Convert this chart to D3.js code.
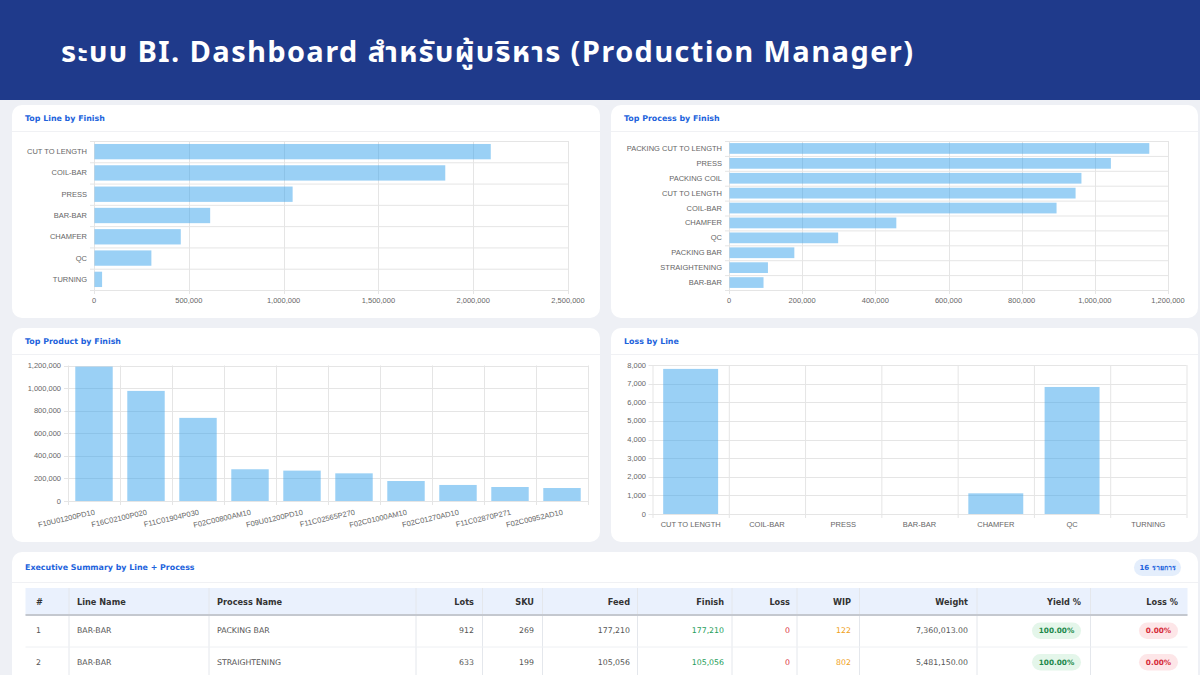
<!DOCTYPE html>
<html>
<head>
<meta charset="utf-8">
<script src="https://cdn.jsdelivr.net/npm/d3@7/dist/d3.min.js"></script>
<style>
  html, body { margin: 0; padding: 0; background: #eef0f5; }
  svg { display: block; }
  .tick-label { font-family: "Liberation Sans", Arial, sans-serif; font-size: 7.5px; fill: #666; }
  .card-title { font-family: "DejaVu Sans", sans-serif; font-weight: bold; font-size: 7.9px; fill: #1d63dc; }
  .tbl { font-family: "DejaVu Sans", sans-serif; font-size: 7.8px; fill: #555; }
  .tbl-h { font-family: "DejaVu Sans", sans-serif; font-size: 8.2px; font-weight: bold; fill: #333; }
</style>
</head>
<body>
<div id="chart"></div>
<script>
// Data
const lineNames = ['CUT TO LENGTH', 'COIL-BAR', 'PRESS', 'BAR-BAR', 'CHAMFER', 'QC', 'TURNING']
const lineFinish = [2090000, 1850000, 1045000, 610000, 455000, 300000, 40000]

const processNames = ['PACKING CUT TO LENGTH', 'PRESS', 'PACKING COIL', 'CUT TO LENGTH', 'COIL-BAR',
  'CHAMFER', 'QC', 'PACKING BAR', 'STRAIGHTENING', 'BAR-BAR']
const processFinish = [1147500, 1042500, 962000, 946000, 894000, 456000, 297000, 177210, 105056, 93000]

const productNames = ['F10U01200PD10', 'F16C02100P020', 'F11C01904P030', 'F02C00800AM10', 'F09U01200PD10',
  'F11C02565P270', 'F02C01000AM10', 'F02C01270AD10', 'F11C02870P271', 'F02C00952AD10']
const productFinish = [1190000, 975000, 736000, 281000, 269000, 245000, 177000, 142000, 124000, 115000]

const lossLines = ['CUT TO LENGTH', 'COIL-BAR', 'PRESS', 'BAR-BAR', 'CHAMFER', 'QC', 'TURNING']
const lossValues = [7790, 0, 0, 0, 1110, 6820, 0]

const tableHeaders = ['#', 'Line Name', 'Process Name', 'Lots', 'SKU', 'Feed', 'Finish', 'Loss', 'WIP', 'Weight', 'Yield %', 'Loss %']
const tableRows = [
  [1, 'BAR-BAR', 'PACKING BAR', 912, 269, 177210, 177210, 0, 122, 7360013, 100, 0],
  [2, 'BAR-BAR', 'STRAIGHTENING', 633, 199, 105056, 105056, 0, 802, 5481150, 100, 0],
]
const recordCount = '16 รายการ'

// Setup
const W = 1200, H = 675
const svg = d3.select('#chart').append('svg').attr('width', W).attr('height', H)
svg.append('rect').attr('width', W).attr('height', H).attr('fill', '#eef0f5')

// header band
svg.append('rect').attr('width', W).attr('height', 100).attr('fill', '#1f3a8b')
svg.append('text')
  .attr('x', 61).attr('y', 62)
  .attr('textLength', 852).attr('lengthAdjust', 'spacing')
  .style('font-family', '"Noto Sans Thai", "Noto Sans", "DejaVu Sans", sans-serif')
  .style('font-weight', 'bold').style('font-size', '29px').attr('fill', '#fff')
  .text('ระบบ BI. Dashboard สำหรับผู้บริหาร (Production Manager)')

const barFill = 'rgba(54,162,235,0.5)'
const gridColor = '#e5e5e5'
const fmt = d3.format(',')

function card(x, y, w, h, title, headerLine) {
  const g = svg.append('g')
  g.append('rect').attr('x', x).attr('y', y).attr('width', w).attr('height', h)
    .attr('rx', 10).attr('fill', '#fff')
  g.append('text').attr('class', 'card-title').attr('x', x + 13).attr('y', y + 15.5).text(title)
  if (headerLine !== false) {
    g.append('line').attr('x1', x).attr('x2', x + w).attr('y1', y + 26.5).attr('y2', y + 26.5)
      .attr('stroke', '#f0f1f4')
  }
  return g
}

// horizontal bar chart
function hBar(g, names, values, xScale, ticks, top, bottom, labelRight) {
  const y = d3.scaleBand().domain(names).range([top, bottom]).padding(0)
  const x0 = xScale.range()[0], x1 = xScale.range()[1]
  // category boundary lines
  const bounds = names.map(n => y(n)).concat([bottom])
  g.selectAll('.hb').data(bounds).join('line')
    .attr('x1', x0 - 4).attr('x2', x1).attr('y1', d => d + 0.5).attr('y2', d => d + 0.5)
    .attr('stroke', gridColor)
  g.selectAll('.vg').data(ticks).join('line')
    .attr('x1', d => Math.round(xScale(d)) + 0.5).attr('x2', d => Math.round(xScale(d)) + 0.5)
    .attr('y1', top).attr('y2', bottom + 4)
    .attr('stroke', gridColor)
  const bh = y.bandwidth() * 0.72
  g.selectAll('.bar').data(values).join('rect')
    .attr('x', x0 + 0.5)
    .attr('y', (d, i) => y(names[i]) + (y.bandwidth() - bh) / 2)
    .attr('width', d => xScale(d) - x0)
    .attr('height', bh)
    .attr('fill', barFill)
  g.selectAll('.yl').data(names).join('text').attr('class', 'tick-label')
    .attr('x', labelRight).attr('y', d => y(d) + y.bandwidth() / 2)
    .attr('text-anchor', 'end').attr('dominant-baseline', 'central').text(d => d)
  g.selectAll('.xl').data(ticks).join('text').attr('class', 'tick-label')
    .attr('x', d => xScale(d)).attr('y', bottom + 13)
    .attr('text-anchor', 'middle').text(d => fmt(d))
}

// vertical bar chart
function vBar(g, names, values, yScale, ticks, left, right, labelRight, rotate) {
  const x = d3.scaleBand().domain(names).range([left, right]).padding(0)
  const y0 = yScale.range()[0], y1 = yScale.range()[1]
  g.selectAll('.hg').data(ticks).join('line')
    .attr('x1', left - 4).attr('x2', right)
    .attr('y1', d => Math.round(yScale(d)) + 0.5).attr('y2', d => Math.round(yScale(d)) + 0.5)
    .attr('stroke', gridColor)
  const bounds = names.map(n => x(n)).concat([right])
  g.selectAll('.vg').data(bounds).join('line')
    .attr('x1', d => d + 0.5).attr('x2', d => d + 0.5).attr('y1', y1).attr('y2', y0 + 4)
    .attr('stroke', gridColor)
  const bw = x.bandwidth() * 0.72
  g.selectAll('.bar').data(values).join('rect')
    .attr('x', (d, i) => x(names[i]) + (x.bandwidth() - bw) / 2)
    .attr('y', d => yScale(d))
    .attr('width', bw)
    .attr('height', d => y0 - yScale(d))
    .attr('fill', barFill)
  g.selectAll('.yl').data(ticks).join('text').attr('class', 'tick-label')
    .attr('x', labelRight).attr('y', d => yScale(d))
    .attr('text-anchor', 'end').attr('dominant-baseline', 'central').text(d => fmt(d))
  if (rotate) {
    g.selectAll('.xl').data(names).join('text').attr('class', 'tick-label')
      .attr('transform', d => `translate(${x(d) + x.bandwidth() / 2},${y0 + 8}) rotate(-13)`)
      .attr('text-anchor', 'end').attr('dominant-baseline', 'hanging').text(d => d)
  } else {
    g.selectAll('.xl').data(names).join('text').attr('class', 'tick-label')
      .attr('x', d => x(d) + x.bandwidth() / 2).attr('y', y0 + 13)
      .attr('text-anchor', 'middle').text(d => d)
  }
}

// Cards
const c1 = card(12, 105, 588, 213, 'Top Line by Finish')
hBar(c1, lineNames, lineFinish, d3.scaleLinear().domain([0, 2500000]).range([94, 568]),
  d3.range(0, 2500001, 500000), 141, 290, 87)

const c2 = card(611, 105, 587, 213, 'Top Process by Finish')
hBar(c2, processNames, processFinish, d3.scaleLinear().domain([0, 1200000]).range([729, 1168]),
  d3.range(0, 1200001, 200000), 141, 290, 722)

const c3 = card(12, 328, 588, 214, 'Top Product by Finish')
vBar(c3, productNames, productFinish, d3.scaleLinear().domain([0, 1200000]).range([501, 365.5]),
  d3.range(0, 1200001, 200000), 68, 588, 61, true)

const c4 = card(611, 328, 587, 214, 'Loss by Line')
vBar(c4, lossLines, lossValues, d3.scaleLinear().domain([0, 8000]).range([514, 365]),
  d3.range(0, 8001, 1000), 652.5, 1186.5, 646, false)

// Executive summary table
const c5 = card(12, 552, 1186, 150, 'Executive Summary by Line + Process', false)
c5.select('.card-title').attr('y', 570)
c5.append('line').attr('x1', 12).attr('x2', 1198).attr('y1', 582.5).attr('y2', 582.5).attr('stroke', '#f0f1f4')
c5.append('rect').attr('x', 1134).attr('y', 559).attr('width', 47).attr('height', 17).attr('rx', 8.5)
  .attr('fill', '#e4eefc')
c5.append('text').attr('x', 1157.5).attr('y', 567.5).attr('text-anchor', 'middle')
  .attr('dominant-baseline', 'central')
  .style('font-family', '"DejaVu Sans", sans-serif').style('font-weight', 'bold').style('font-size', '7px')
  .attr('fill', '#1d63dc').text(recordCount)

const tLeft = 25.5, tRight = 1187.5
const colDiv = [69, 209, 416, 482.5, 542.5, 637.5, 732, 797, 859.5, 977, 1090.5]
const colX = [36, 77, 217, 474, 534, 630, 724, 790, 851, 968, 1081, 1178]
const colAlign = ['start', 'start', 'start', 'end', 'end', 'end', 'end', 'end', 'end', 'end', 'end', 'end']
const headTop = 588, headBot = 615, rowH = 31.5

c5.append('rect').attr('x', tLeft).attr('y', headTop).attr('width', tRight - tLeft).attr('height', headBot - headTop)
  .attr('fill', '#eaf1fd')
c5.selectAll('.cd').data(colDiv).join('line')
  .attr('x1', d => d).attr('x2', d => d).attr('y1', headTop).attr('y2', H)
  .attr('stroke', '#e4e7ec')
c5.append('line').attr('x1', tLeft).attr('x2', tRight).attr('y1', headBot).attr('y2', headBot)
  .attr('stroke', '#c4c8cf').attr('stroke-width', 2)
c5.selectAll('.th').data(tableHeaders).join('text').attr('class', 'tbl-h')
  .attr('x', (d, i) => colX[i]).attr('y', (headTop + headBot) / 2)
  .attr('text-anchor', (d, i) => colAlign[i]).attr('dominant-baseline', 'central').text(d => d)

const valueColor = ['#555', '#555', '#555', '#555', '#555', '#555', '#1e9e5a', '#dc2f3c', '#f0a020', '#555']
tableRows.forEach((row, r) => {
  const cy = headBot + rowH * r + rowH / 2
  c5.append('line').attr('x1', tLeft).attr('x2', tRight)
    .attr('y1', headBot + rowH * (r + 1) + 0.5).attr('y2', headBot + rowH * (r + 1) + 0.5)
    .attr('stroke', '#eef0f3')
  row.forEach((v, i) => {
    if (i >= 10) {
      const pillW = i === 10 ? 49 : 39
      const good = i === 10
      c5.append('rect').attr('x', colX[i] - pillW).attr('y', cy - 8.3).attr('width', pillW).attr('height', 16.6)
        .attr('rx', 8.3).attr('fill', good ? '#e4f6ea' : '#fde6e8')
      c5.append('text').attr('x', colX[i] - pillW / 2).attr('y', cy)
        .attr('text-anchor', 'middle').attr('dominant-baseline', 'central')
        .style('font-family', '"DejaVu Sans", sans-serif').style('font-weight', 'bold').style('font-size', '7.3px')
        .attr('fill', good ? '#1e8a4c' : '#d62d3a').text(v.toFixed(2) + '%')
      return
    }
    let txt = v
    if (i >= 3 && i <= 8) txt = fmt(v)
    if (i === 9) txt = d3.format(',.2f')(v)
    c5.append('text').attr('class', 'tbl').attr('x', colX[i]).attr('y', cy)
      .attr('text-anchor', colAlign[i]).attr('dominant-baseline', 'central')
      .attr('fill', valueColor[i]).style('fill', valueColor[i]).text(txt)
  })
})
</script>
</body>
</html>
